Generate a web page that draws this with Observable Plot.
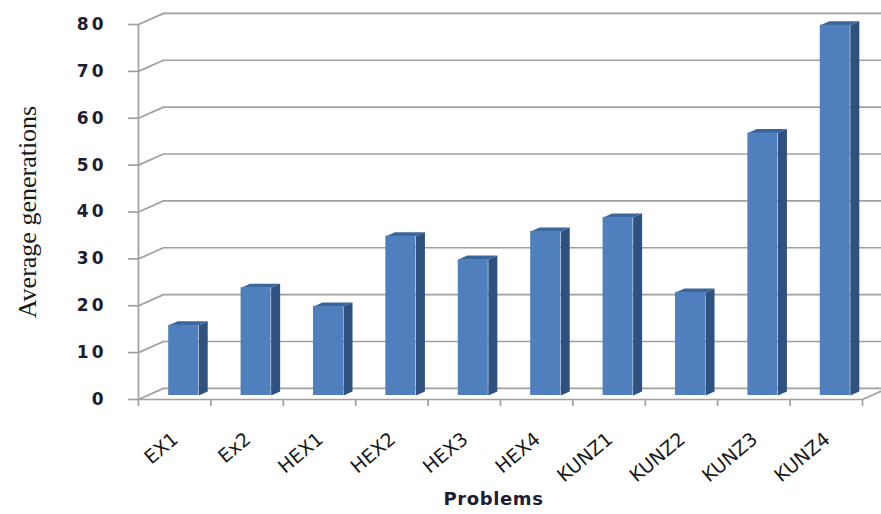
<!DOCTYPE html>
<html>
<head>
<meta charset="utf-8">
<script src="https://cdn.jsdelivr.net/npm/d3@7"></script>
<script src="https://cdn.jsdelivr.net/npm/@observablehq/plot@0.6"></script>
<style>
  body { margin: 0; background: #fff; }
  #chart svg { display: block; overflow: visible; }
  .ytick-labels text { letter-spacing: 3px; }
  .problem-title text { letter-spacing: 0.6px; }
</style>
</head>
<body>
<div id="chart"></div>
<script>
// Average generations needed per test problem
const problems = ["EX1", "Ex2", "HEX1", "HEX2", "HEX3", "HEX4", "KUNZ1", "KUNZ2", "KUNZ3", "KUNZ4"];
const avgGenerations = [15, 23, 19, 34, 29, 35, 38, 22, 56, 79];
const yTicks = [0, 10, 20, 30, 40, 50, 60, 70, 80];

const width = 881, height = 514;
const margin = {top: 24, right: 19, bottom: 115, left: 138};
const yMax = 80;

// pixels per data unit along each axis
const xUnit = (width - margin.left - margin.right) / problems.length;
const yUnit = (height - margin.top - margin.bottom) / yMax;

// oblique projection: one depth step moves 9px right and 4px up
const stepX = 9 / xUnit, stepY = 4 / yUnit;
const wallDepth = 25 / 9;              // back wall, in depth steps
const wallX = stepX * wallDepth, wallY = stepY * wallDepth;
const barWidth = 0.415;                // fraction of a category
const barLeft = 0.5 - barWidth / 2;

const bars = problems.map((name, i) => ({name, i, value: avgGenerations[i]}));

// front face sits one depth step back, the bar's rear two steps back
const fronts = bars.map(b => ({
  x1: b.i + barLeft + stepX, x2: b.i + barLeft + barWidth + stepX,
  y1: stepY, y2: b.value + stepY
}));
const sides = bars.flatMap(b => {
  const xr = b.i + barLeft + barWidth;
  return [
    {k: b.name, x: xr + stepX, y: stepY},
    {k: b.name, x: xr + stepX, y: b.value + stepY},
    {k: b.name, x: xr + 2 * stepX, y: b.value + 2 * stepY},
    {k: b.name, x: xr + 2 * stepX, y: 2 * stepY}
  ];
});
const tops = bars.flatMap(b => {
  const xl = b.i + barLeft, xr = xl + barWidth;
  return [
    {k: b.name, x: xl + stepX, y: b.value + stepY},
    {k: b.name, x: xr + stepX, y: b.value + stepY},
    {k: b.name, x: xr + 2 * stepX, y: b.value + 2 * stepY},
    {k: b.name, x: xl + 2 * stepX, y: b.value + 2 * stepY}
  ];
});

const grid = "#a0a0a0";
const textColor = "#1c1c34";

const chart = Plot.plot({
  width, height,
  marginTop: margin.top, marginRight: margin.right,
  marginBottom: margin.bottom, marginLeft: margin.left,
  x: {domain: [0, problems.length], axis: null},
  y: {domain: [0, yMax], axis: null},
  style: {background: "#fff", overflow: "visible"},
  marks: [
    // back wall gridlines
    Plot.ruleY(yTicks, {y: d => d + wallY, x1: wallX, x2: problems.length + wallX, stroke: grid, strokeWidth: 1.7}),
    // side wall diagonals
    Plot.link(yTicks, {x1: 0, y1: d => d, x2: wallX, y2: d => d + wallY, stroke: grid, strokeWidth: 1.7}),
    // floor edge on the right
    Plot.link([0], {x1: problems.length, y1: 0, x2: problems.length + wallX, y2: wallY, stroke: grid, strokeWidth: 1.7}),
    // front vertical axis
    Plot.ruleX([0], {y1: 0, y2: yMax, stroke: grid, strokeWidth: 1.7}),
    // y tick marks
    Plot.ruleY(yTicks, {x1: -10 / xUnit, x2: 0, stroke: grid, strokeWidth: 1.7}),
    // front floor line and category ticks
    Plot.ruleY([0], {x1: 0, x2: problems.length, stroke: grid, strokeWidth: 1.7}),
    Plot.ruleX(d3.range(problems.length + 1), {y1: 0, y2: -7 / yUnit, stroke: grid, strokeWidth: 1.7}),
    // 3D columns
    Plot.line(sides, {x: "x", y: "y", z: "k", fill: "#2f5180", stroke: "none"}),
    Plot.line(tops, {x: "x", y: "y", z: "k", fill: "#3b6699", stroke: "none"}),
    Plot.rect(fronts, {x1: "x1", x2: "x2", y1: "y1", y2: "y2", fill: "#4f80bd"}),
    // y tick labels
    Plot.text(yTicks, {x: 0, y: d => d, dx: -32, text: d => String(d), textAnchor: "end",
      fontSize: 17, fontWeight: "bold", fontFamily: "DejaVu Sans", fill: textColor,
      className: "ytick-labels"}),
    // category labels
    Plot.text(bars, {x: d => d.i + 0.5, y: 0, text: "name", textAnchor: "end", rotate: -40,
      dx: 1, dy: 37, fontSize: 19, fontFamily: "DejaVu Sans", fill: "#1a1a1a"}),
    // axis titles
    Plot.text(["Problems"], {frameAnchor: "bottom", dx: -7, dy: 105, fontSize: 18, fontWeight: "bold",
      fontFamily: "DejaVu Sans", fill: textColor, className: "problem-title"}),
    Plot.text(["Average generations"], {frameAnchor: "left", textAnchor: "middle", dx: -111, rotate: -90,
      fontSize: 26, fontFamily: "Liberation Serif", fill: "#1a1a1a"})
  ]
});

document.getElementById("chart").append(chart);
</script>
</body>
</html>
